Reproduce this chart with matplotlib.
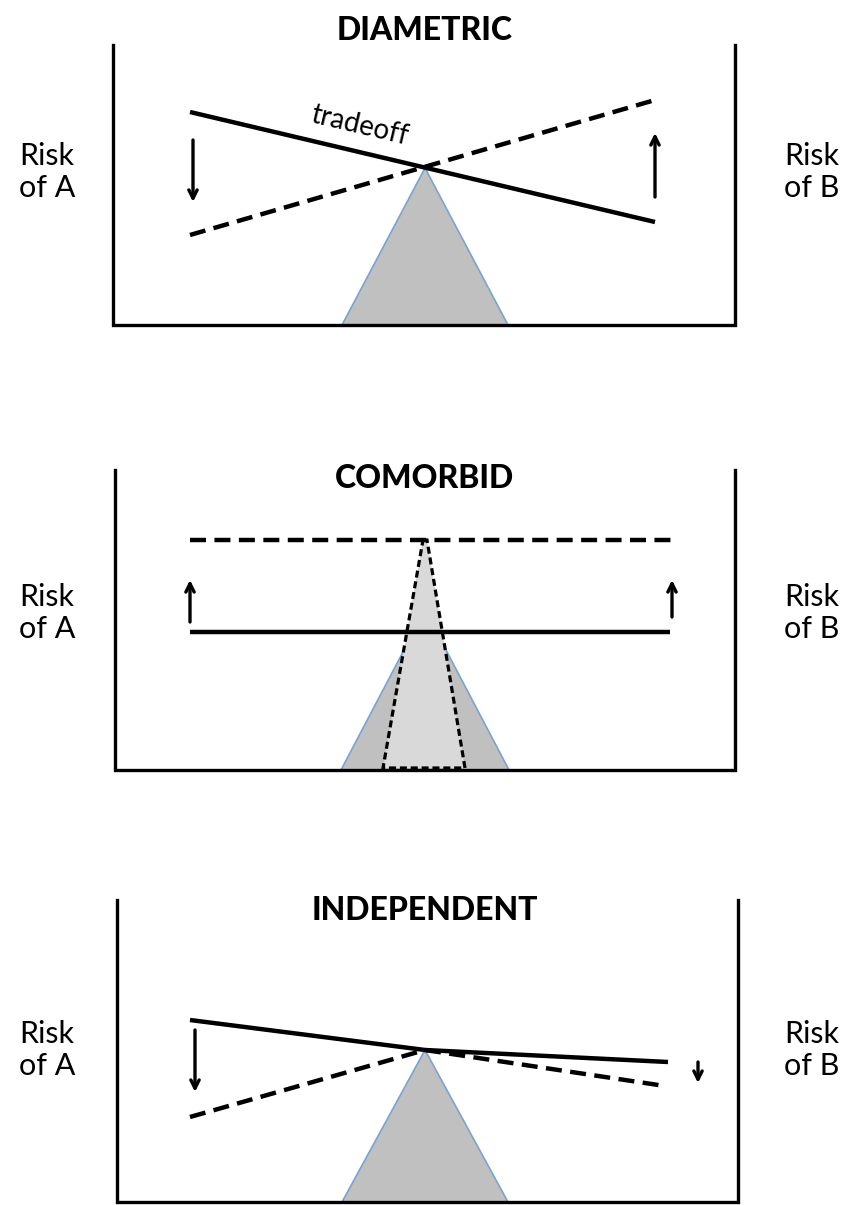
import matplotlib.pyplot as plt
from matplotlib.patches import Polygon

# panel layout (pixel coordinates, y downwards)
titles = ['DIAMETRIC', 'COMORBID', 'INDEPENDENT']
title_y = [31, 479, 911]
wall_top = [45, 470, 900]
floor_y = [325, 770, 1202]
wall_left = [113, 115, 117]
wall_right = [735, 735, 738]
label_y = [172, 613, 1050]

# lines on the seesaw
solid_x = [[190, 655], [190, 670], [190, 425, 668]]
solid_y = [[112, 222], [632, 632], [1020, 1050, 1062]]
dash_x = [[190, 655], [190, 675], [190, 425, 665]]
dash_y = [[235, 100], [540, 540], [1117, 1050, 1086]]

# arrows: x, start y, end y
arrows = [
    [(193, 140, 202), (655, 197, 133)],
    [(190, 622, 580), (672, 617, 580)],
    [(195, 1030, 1092), (698, 1062, 1083)],
]

# fulcrum triangles: apex x, apex y, half base
apex_x = [425, 425, 425]
apex_y = [168, 610, 1050]
half_base = [83, 84, 83]

# comorbid narrow fulcrum (dashed)
narrow_top = (425, 540)
narrow_base = (383, 465)

fig = plt.figure(figsize=(8.48, 12.05), dpi=100)
ax = fig.add_axes([0, 0, 1, 1])
ax.set_xlim(0, 848)
ax.set_ylim(1205, 0)
ax.axis('off')

for i in range(3):
    # box
    ax.plot([wall_left[i], wall_left[i], wall_right[i], wall_right[i]],
            [wall_top[i], floor_y[i], floor_y[i], wall_top[i]],
            color='black', lw=2.4, solid_joinstyle='miter', zorder=2)
    ax.text(425, title_y[i], titles[i], ha='center', va='center',
            fontsize=23, fontweight='black', family='Lato')
    ax.text(47, label_y[i], 'Risk\nof A', ha='center', va='center',
            fontsize=22, family='Lato', linespacing=1.2)
    ax.text(812, label_y[i], 'Risk\nof B', ha='center', va='center',
            fontsize=22, family='Lato', linespacing=1.2)

    tri = Polygon([(apex_x[i], apex_y[i]),
                   (apex_x[i] - half_base[i], floor_y[i]),
                   (apex_x[i] + half_base[i], floor_y[i])],
                  closed=True, facecolor='#c0c0c0', edgecolor='#7ba3cf',
                  lw=1.2, zorder=1)
    ax.add_patch(tri)

    ax.plot(solid_x[i], solid_y[i], color='black', lw=3.2,
            solid_capstyle='butt', zorder=4)
    ax.plot(dash_x[i], dash_y[i], color='black', lw=3.2,
            dashes=(3.6, 1.9), zorder=4)

    for x, y0, y1 in arrows[i]:
        ax.annotate('', xy=(x, y1), xytext=(x, y0),
                    arrowprops=dict(arrowstyle='->,head_length=0.6,head_width=0.3',
                                    color='black', lw=2.4, shrinkA=0, shrinkB=0),
                    zorder=5)

# narrow fulcrum in comorbid panel
narrow = Polygon([(narrow_top[0] - 2, narrow_top[1]),
                  (narrow_top[0] + 2, narrow_top[1]),
                  (narrow_base[1], floor_y[1] - 2),
                  (narrow_base[0], floor_y[1] - 2)],
                 closed=True, facecolor='#d9d9d9', edgecolor='black',
                 lw=2.3, linestyle=(0, (2.2, 1.2)), zorder=3)
ax.add_patch(narrow)

ax.text(360, 126, 'tradeoff', ha='center', va='center', fontsize=20,
        family='Lato', rotation=-13.3, rotation_mode='anchor')

fig.savefig('out.png', dpi=100)
